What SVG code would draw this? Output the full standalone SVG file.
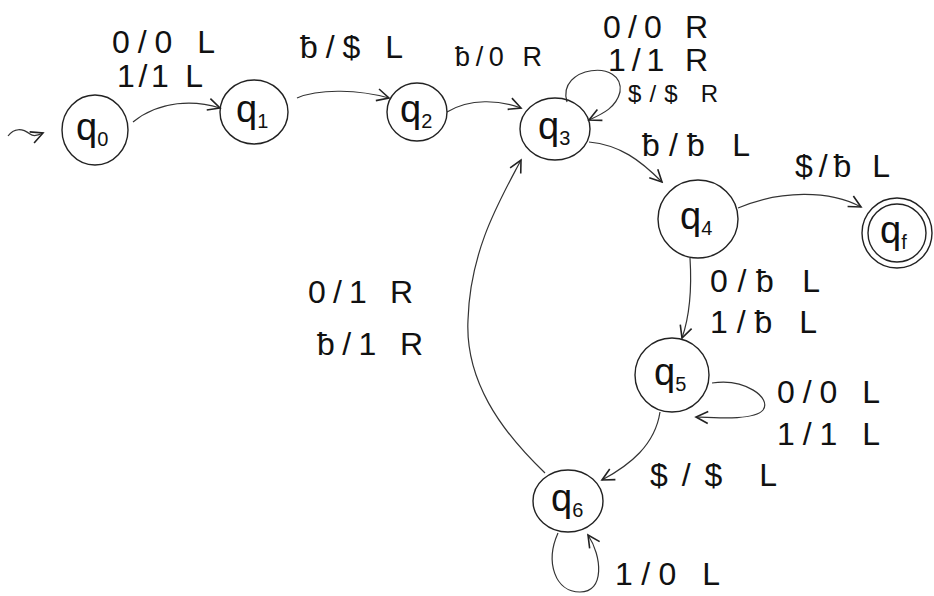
<svg xmlns="http://www.w3.org/2000/svg" width="934" height="596" viewBox="0 0 934 596">
<style>
.n{fill:none;stroke:#222;stroke-width:1.4}
.e{fill:none;stroke:#333;stroke-width:1.2}
.t{font-family:"Liberation Sans",Arial,sans-serif;font-size:32px;fill:#111}
.q{font-family:"Liberation Sans",Arial,sans-serif;font-size:38px;fill:#111}
.s{font-size:20px}
</style>
<defs>
<marker id="a" markerUnits="userSpaceOnUse" markerWidth="16" markerHeight="16" viewBox="-14 -8 16 16" refX="0" refY="0" orient="auto">
<path d="M-12,-6 L0,0 L-12,6" fill="none" stroke="#222" stroke-width="1.6"/>
</marker>
</defs>
<rect width="934" height="596" fill="#fff"/>
<g id="connectors">
<path class="e" d="M8,136 C14,128 22,128 30,134 C34,137 38,135 43,133" marker-end="url(#a)"/>
<path class="e" d="M133,122 C160,100 195,100 220,108" marker-end="url(#a)"/>
<path class="e" d="M297,98 C320,88 360,90 389,98" marker-end="url(#a)"/>
<path class="e" d="M447,112 C470,98 500,100 521,108" marker-end="url(#a)"/>
<path class="e" d="M567,102 C556,66 625,58 620,92 C616,108 602,114 589,120" marker-end="url(#a)"/>
<path class="e" d="M589,142 C620,145 640,160 662,182" marker-end="url(#a)"/>
<path class="e" d="M738,208 C780,190 830,190 861,207" marker-end="url(#a)"/>
<path class="e" d="M690,258 C692,290 690,315 682,338" marker-end="url(#a)"/>
<path class="e" d="M712,383 C745,378 772,398 763,410 C755,420 720,418 696,417" marker-end="url(#a)"/>
<path class="e" d="M660,412 C655,445 630,465 602,480" marker-end="url(#a)"/>
<path class="e" d="M558,533 C545,562 555,592 580,592 C605,592 602,556 588,535" marker-end="url(#a)"/>
<path class="e" d="M545,473 C500,430 465,380 468,320 C470,250 500,200 521,160" marker-end="url(#a)"/>
<text class="t" x="112" y="53" textLength="103" lengthAdjust="spacing">0/0 L</text>
<text class="t" x="117" y="87" textLength="86" lengthAdjust="spacing">1/1 L</text>
<text class="t" x="300" y="58" textLength="103" lengthAdjust="spacing">ƀ/$ L</text>
<text class="t" x="455" y="66" textLength="87" lengthAdjust="spacing" style="font-size:27px">ƀ/0 R</text>
<text class="t" x="603" y="38" textLength="105" lengthAdjust="spacing">0/0 R</text>
<text class="t" x="608" y="71" textLength="100" lengthAdjust="spacing">1/1 R</text>
<text class="t" x="628" y="102" textLength="90" lengthAdjust="spacing" style="font-size:24px">$/$ R</text>
<text class="t" x="642" y="156" textLength="108" lengthAdjust="spacing">ƀ/ƀ L</text>
<text class="t" x="795" y="177" textLength="95" lengthAdjust="spacing">$/ƀ L</text>
<text class="t" x="710" y="292" textLength="110" lengthAdjust="spacing">0/ƀ L</text>
<text class="t" x="710" y="333" textLength="107" lengthAdjust="spacing">1/ƀ L</text>
<text class="t" x="777" y="403" textLength="103" lengthAdjust="spacing">0/0 L</text>
<text class="t" x="777" y="445" textLength="103" lengthAdjust="spacing">1/1 L</text>
<text class="t" x="650" y="486" textLength="127" lengthAdjust="spacing">$/$ L</text>
<text class="t" x="615" y="585" textLength="105" lengthAdjust="spacing">1/0 L</text>
<text class="t" x="308" y="303" textLength="105" lengthAdjust="spacing">0/1 R</text>
<text class="t" x="317" y="355" textLength="106" lengthAdjust="spacing">ƀ/1 R</text>
</g>
<g id="q0"><ellipse class="n" cx="95" cy="130" rx="33" ry="35"/><text class="q" x="76" y="140">q<tspan class="s" dy="6">0</tspan></text></g>
<g id="q1"><ellipse class="n" cx="254" cy="112" rx="34" ry="32"/><text class="q" x="236" y="122">q<tspan class="s" dy="6">1</tspan></text></g>
<g id="q2"><ellipse class="n" cx="417" cy="112" rx="30" ry="29"/><text class="q" x="400" y="122">q<tspan class="s" dy="6">2</tspan></text></g>
<g id="q3"><ellipse class="n" cx="555" cy="129" rx="35" ry="31"/><text class="q" x="538" y="139">q<tspan class="s" dy="6">3</tspan></text></g>
<g id="q4"><ellipse class="n" cx="698" cy="219" rx="40" ry="39"/><text class="q" x="680" y="229">q<tspan class="s" dy="6">4</tspan></text></g>
<g id="qf"><circle class="n" cx="897" cy="233" r="35"/><circle class="n" cx="897" cy="233" r="29"/><text class="q" x="880" y="243">q<tspan class="s" dy="6">f</tspan></text></g>
<g id="q5"><ellipse class="n" cx="672" cy="375" rx="37" ry="37"/><text class="q" x="654" y="385">q<tspan class="s" dy="6">5</tspan></text></g>
<g id="q6"><ellipse class="n" cx="568" cy="501" rx="35" ry="31"/><text class="q" x="551" y="511">q<tspan class="s" dy="6">6</tspan></text></g>
</svg>
